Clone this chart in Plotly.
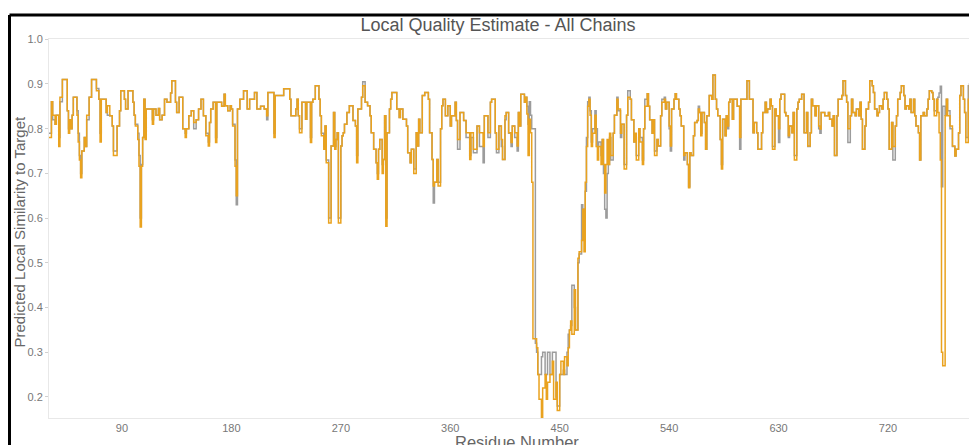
import plotly.graph_objects as go

# Residue numbers at which either chain's per-residue score changes (step positions)
residue = [
    30, 32, 33, 35, 36, 38, 39, 41, 45, 46,
    47, 48, 49, 50, 53, 54, 55, 56, 57, 59,
    60, 61, 63, 65, 69, 71, 72, 73, 77, 78,
    80, 82, 83, 86, 88, 89, 92, 93, 95, 99,
    100, 101, 103, 104, 105, 106, 107, 108, 109, 110,
    115, 116, 118, 120, 121, 123, 125, 127, 130, 131,
    134, 135, 137, 140, 142, 143, 145, 147, 149, 151,
    153, 155, 157, 159, 161, 162, 163, 165, 167, 168,
    172, 174, 175, 177, 179, 180, 181, 183, 184, 185,
    187, 190, 193, 195, 199, 201, 204, 207, 209, 210,
    215, 216, 223, 228, 229, 233, 234, 235, 236, 238,
    241, 242, 245, 246, 247, 249, 252, 253, 254, 256,
    257, 258, 260, 262, 264, 265, 266, 267, 268, 270,
    271, 272, 273, 275, 277, 280, 282, 283, 284, 287,
    288, 290, 292, 294, 295, 297, 299, 300, 301, 302,
    304, 305, 306, 307, 308, 310, 311, 312, 316, 318,
    319, 321, 324, 325, 327, 328, 330, 332, 333, 334,
    335, 337, 339, 342, 343, 345, 346, 347, 349, 350,
    352, 353, 354, 356, 358, 360, 361, 364, 365, 366,
    368, 371, 373, 376, 377, 379, 382, 384, 387, 388,
    391, 393, 394, 397, 398, 400, 402, 403, 405, 406,
    408, 410, 411, 413, 415, 416, 417, 418, 421, 422,
    423, 424, 425, 426, 427, 428, 430, 431, 432, 433, 435,
    436, 438, 439, 440, 442, 444, 445, 447, 448, 450,
    451, 453, 454, 456, 457, 458, 459, 460, 462, 463,
    465, 466, 468, 469, 470, 471, 472, 473, 474, 475,
    476, 477, 479, 480, 481, 482, 484, 485, 486, 487,
    488, 489, 490, 491, 492, 494, 495, 497, 498, 500,
    501, 503, 505, 506, 508, 509, 511, 512, 513, 515,
    516, 518, 519, 520, 522, 523, 524, 526, 527, 528,
    530, 531, 533, 534, 536, 537, 538, 540, 541, 542,
    544, 545, 546, 548, 549, 550, 552, 553, 555, 556,
    557, 558, 560, 561, 563, 564, 565, 566, 567, 569,
    570, 571, 573, 575, 576, 578, 579, 580, 582, 583,
    584, 586, 587, 588, 589, 590, 592, 593, 596, 598,
    599, 604, 606, 609, 610, 612, 613, 616, 617, 619,
    620, 621, 623, 624, 625, 627, 628, 630, 631, 632,
    635, 636, 638, 639, 641, 642, 643, 645, 646, 647,
    649, 651, 653, 654, 656, 657, 658, 660, 661, 663,
    664, 665, 668, 671, 672, 674, 675, 676, 678, 679,
    682, 683, 685, 686, 687, 689, 690, 691, 693, 694,
    696, 697, 698, 699, 701, 702, 704, 705, 707, 708,
    709, 711, 712, 713, 715, 716, 717, 719, 720, 721,
    723, 724, 726, 727, 728, 730, 731, 733, 734, 735,
    737, 738, 739, 741, 742, 743, 745, 746, 747, 749,
    750, 752, 753, 754, 756, 757, 758, 760, 761, 762,
    763, 764, 765, 767, 768, 769, 771, 773, 775, 776,
    778, 779, 780, 782, 783, 784, 786, 787, 789, 790,
    791, 793,
]

# Chain A (grey)
chain_a = [
    .79, .86, .82, .81, .83, .78, .86, .91, .84, .80,
    .82, .80, .83, .87, .84, .79, .74, .70, .75, .78,
    .76, .82, .87, .91, .89, .866, .79, .866, .836, .83,
    .829, .806, .75, .806, .84, .885, .866, .844, .885, .859,
    .83, .81, .79, .74, .60, .72, .78, .866, .79, .844,
    .82, .844, .83, .845, .82, .83, .866, .859, .88, .907,
    .859, .836, .87, .80, .79, .80, .829, .84, .80, .82,
    .844, .866, .829, .79, .77, .814, .844, .859, .78, .859,
    .85, .877, .851, .84, .851, .844, .81, .73, .63, .844,
    .866, .885, .844, .866, .881, .844, .85, .844, .82, .881,
    .79, .874, .889, .866, .829, .844, .866, .829, .80, .859,
    .821, .859, .78, .859, .866, .896, .866, .829, .79, .76,
    .806, .73, .60, .761, .836, .76, .776, .791, .60, .761,
    .784, .791, .81, .836, .851, .818, .806, .74, .844, .87,
    .905, .859, .851, .829, .791, .754, .724, .70, .754, .776,
    .72, .731, .829, .60, .791, .844, .866, .881, .844, .825,
    .844, .821, .806, .746, .724, .754, .71, .791, .761, .821,
    .791, .874, .881, .866, .791, .731, .634, .68, .731, .68,
    .80, .851, .866, .829, .851, .806, .829, .859, .818, .754,
    .836, .818, .78, .74, .78, .746, .806, .76, .724, .829,
    .78, .859, .866, .79, .746, .806, .76, .731, .82, .836,
    .79, .76, .806, .78, .75, .836, .806, .877, .859, .87,
    .85, .81, .86, .83, .80, .80, .32, .30, .25, .25, .29,
    .30, .25, .25, .30, .25, .30, .30, .20, .18, .25,
    .25, .26, .25, .30, .34, .35, .36, .45, .40, .35,
    .50, .52, .63, .62, .60, .66, .78, .86, .87, .84,
    .77, .80, .84, .80, .76, .77, .74, .776, .70, .62,
    .60, .70, .72, .78, .73, .79, .83, .87, .84, .78,
    .81, .72, .83, .885, .866, .82, .77, .78, .74, .80,
    .78, .73, .80, .866, .878, .85, .82, .79, .82, .75,
    .776, .761, .829, .866, .87, .844, .859, .80, .75, .844,
    .866, .878, .866, .844, .829, .806, .73, .746, .72, .67,
    .746, .74, .784, .814, .818, .85, .836, .79, .836, .814,
    .754, .829, .874, .866, .92, .866, .844, .829, .776, .72,
    .821, .784, .829, .80, .859, .866, .821, .866, .85, .754,
    .866, .907, .866, .791, .814, .791, .754, .791, .836, .859,
    .836, .844, .866, .851, .76, .844, .829, .769, .866, .877,
    .836, .829, .78, .806, .791, .836, .74, .844, .859, .866,
    .877, .791, .836, .76, .791, .866, .851, .829, .851, .80,
    .79, .836, .829, .836, .821, .806, .829, .74, .829, .866,
    .874, .907, .874, .859, .769, .829, .866, .836, .829, .844,
    .829, .859, .821, .754, .806, .844, .859, .907, .896, .881,
    .844, .829, .836, .851, .844, .866, .881, .866, .844, .754,
    .814, .73, .806, .829, .866, .881, .896, .874, .844, .851,
    .844, .866, .836, .866, .829, .806, .791, .73, .829, .836,
    .829, .844, .866, .885, .881, .866, .84, .866, .87, .88,
    .895, .67, .85, .83, .866, .84, .80, .76, .739, .754,
    .79, .874, .896, .866, .836, .78, .896, .90, .881, .86,
    .80, .77,
]

# Chain B (orange)
chain_b = [
    .78, .86, .83, .81, .83, .76, .87, .91, .84, .79,
    .82, .80, .83, .87, .83, .77, .73, .69, .75, .78,
    .76, .83, .87, .91, .885, .866, .77, .866, .836, .851,
    .829, .806, .74, .806, .84, .885, .866, .844, .885, .859,
    .83, .806, .776, .716, .58, .716, .78, .866, .776, .844,
    .81, .844, .83, .845, .82, .83, .866, .859, .88, .907,
    .859, .836, .87, .80, .78, .80, .829, .84, .814, .82,
    .844, .866, .829, .784, .761, .814, .844, .859, .769, .859,
    .85, .877, .851, .84, .851, .844, .806, .716, .65, .844,
    .866, .885, .844, .866, .881, .844, .85, .844, .829, .881,
    .78, .874, .889, .866, .829, .844, .866, .829, .791, .859,
    .821, .859, .769, .859, .866, .896, .866, .829, .784, .754,
    .806, .724, .589, .761, .836, .754, .776, .791, .589, .761,
    .784, .791, .81, .836, .851, .818, .806, .724, .844, .87,
    .896, .859, .851, .829, .791, .754, .724, .687, .754, .776,
    .70, .731, .829, .582, .791, .844, .866, .881, .844, .825,
    .844, .821, .806, .746, .724, .754, .70, .791, .761, .821,
    .791, .874, .881, .866, .791, .731, .672, .68, .731, .672,
    .80, .851, .866, .829, .851, .806, .829, .859, .818, .776,
    .836, .818, .791, .731, .791, .754, .806, .791, .76, .829,
    .791, .859, .866, .791, .754, .806, .776, .731, .829, .836,
    .791, .769, .806, .791, .761, .836, .806, .877, .859, .87,
    .833, .74, .821, .791, .68, .33, .33, .31, .25, .195, .15,
    .22, .25, .195, .233, .25, .28, .195, .233, .17, .25,
    .28, .25, .29, .27, .31, .35, .37, .34, .44, .35,
    .51, .525, .55, .62, .525, .68, .76, .85, .866, .83,
    .76, .79, .83, .76, .73, .76, .72, .776, .72, .656,
    .72, .776, .72, .79, .74, .79, .83, .866, .844, .79,
    .81, .71, .83, .87, .866, .82, .77, .79, .73, .80,
    .77, .72, .80, .85, .878, .85, .82, .79, .82, .74,
    .776, .761, .829, .859, .866, .844, .859, .806, .761, .844,
    .866, .878, .866, .844, .829, .806, .74, .746, .72, .668,
    .746, .74, .784, .814, .818, .844, .836, .784, .836, .814,
    .754, .829, .874, .866, .92, .866, .844, .829, .776, .71,
    .821, .784, .829, .806, .859, .866, .821, .866, .85, .78,
    .866, .907, .866, .791, .814, .791, .754, .791, .836, .859,
    .836, .844, .866, .851, .754, .844, .829, .80, .866, .877,
    .836, .829, .784, .806, .791, .836, .73, .844, .859, .866,
    .877, .791, .836, .761, .791, .866, .851, .829, .851, .806,
    .799, .836, .829, .836, .821, .806, .829, .74, .829, .866,
    .874, .907, .874, .859, .80, .829, .866, .836, .829, .844,
    .829, .859, .821, .754, .806, .844, .859, .907, .896, .881,
    .844, .829, .836, .851, .844, .866, .881, .866, .844, .754,
    .814, .76, .806, .829, .866, .881, .896, .874, .844, .851,
    .844, .866, .836, .866, .829, .806, .791, .73, .829, .836,
    .829, .844, .866, .885, .881, .866, .829, .866, .836, .791,
    .73, .30, .27, .829, .866, .829, .806, .761, .739, .754,
    .791, .874, .896, .866, .836, .769, .866, .896, .881, .851,
    .791, .761,
]

assert len(residue) == len(chain_a) == len(chain_b), (len(residue), len(chain_a), len(chain_b))

x_ticks = [90, 180, 270, 360, 450, 540, 630, 720]
title_text = "Local Quality Estimate - All Chains"
x_title = "Residue Number"
y_title = "Predicted Local Similarity to Target"

FONT = "Liberation Sans, Arial, Helvetica, sans-serif"

fig = go.Figure()
fig.add_trace(go.Scatter(
    x=residue, y=chain_a, mode="lines", name="Chain A",
    line=dict(color="#9c9c9c", width=1.5, shape="hv"),
))
fig.add_trace(go.Scatter(
    x=residue, y=chain_b, mode="lines", name="Chain B",
    line=dict(color="#e9a21f", width=1.5, shape="hv"),
))

# The page body adds an 8px offset, so the figure is laid out 8px smaller.
OFF = 8
W, H = 977 - OFF, 445 - OFF
ml, mr, mt, mb = 49 - OFF, 0, 39 - OFF, 27
pw, ph = W - ml - mr, H - mt - mb

def px_x(px):
    return (px - OFF - ml) / pw

def px_y(py):
    return (H - mb - (py - OFF)) / ph

fig.update_layout(
    width=W, height=H,
    margin=dict(l=ml, r=mr, t=mt, b=mb, pad=0, autoexpand=False),
    paper_bgcolor="white", plot_bgcolor="white",
    showlegend=False,
    font=dict(family=FONT, color="#666666"),
    title=dict(text=title_text, x=(498 - OFF) / W, xanchor="center", xref="container",
               y=1 - (25 - OFF) / H, yanchor="middle", yref="container",
               font=dict(size=18, color="#555555", family=FONT)),
    xaxis=dict(
        range=[30, 793.2], tickvals=x_ticks, ticks="", showgrid=False, zeroline=False,
        automargin=False, showline=True, linecolor="#e8e8e8", linewidth=1, mirror=True,
        tickfont=dict(size=11, color="#777777"),
    ),
    yaxis=dict(
        range=[0.153, 1.0005], tick0=0.2, dtick=0.1, tickformat=".1f",
        ticks="outside", ticklen=3, tickcolor="#d0d0d0", showgrid=False, zeroline=False,
        automargin=False, showline=True, linecolor="#e8e8e8", linewidth=1,
        tickfont=dict(size=11, color="#777777"),
    ),
    annotations=[
        dict(text=x_title, xref="paper", yref="paper", x=px_x(517), y=px_y(442),
             xanchor="center", yanchor="middle", showarrow=False,
             font=dict(size=16.5, color="#666666", family=FONT)),
        dict(text=y_title, xref="paper", yref="paper", x=px_x(18.5), y=px_y(232),
             xanchor="center", yanchor="middle", showarrow=False, textangle=-90,
             font=dict(size=15, color="#666666", family=FONT)),
    ],
    shapes=[
        dict(type="line", xref="paper", yref="paper", x0=px_x(9.5), x1=px_x(977 + 20),
             y0=px_y(15), y1=px_y(15), line=dict(color="black", width=3)),
        dict(type="line", xref="paper", yref="paper", x0=px_x(9.5), x1=px_x(9.5),
             y0=px_y(15), y1=px_y(445 + 20), line=dict(color="black", width=3)),
    ],
)

fig.write_html("out.html")
